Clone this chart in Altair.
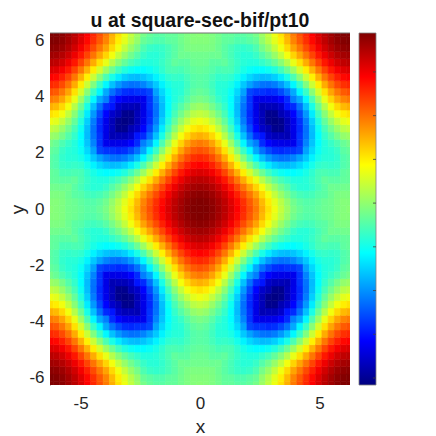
import math
import altair as alt
import pandas as pd

# Field values estimated by eye from the reference, on a grid of pi/12 steps, x and y in 0..2pi.
# The picture is symmetric, so one triangle of one quadrant is listed and mirrored below.
r00 = [.393,.389,.380,.364,.343,.318,.289,.258,.225,.193,.150,.112,.074,.040,.010,-.018,-.033,-.043,-.043,-.035,-.028,-.025,-.015,-.010,-.005]
r01 = [.386,.376,.360,.339,.312,.282,.251,.217,.184,.142,.102,.065,.032,.002,-.025,-.040,-.048,-.046,-.038,-.030,-.025,-.015,-.009,-.009]
r02 = [.366,.348,.325,.296,.264,.229,.195,.160,.117,.077,.040,.007,-.021,-.045,-.058,-.064,-.060,-.047,-.042,-.029,-.017,-.015,-.015]
r03 = [.328,.302,.270,.234,.197,.158,.121,.079,.040,.006,-.024,-.047,-.071,-.082,-.083,-.074,-.058,-.043,-.027,-.029,-.025,-.024]
r04 = [.271,.235,.195,.153,.110,.070,.030,-.006,-.036,-.058,-.074,-.087,-.088,-.083,-.071,-.054,-.037,-.043,-.043,-.037,-.035]
r05 = [.194,.149,.101,.054,.010,-.029,-.063,-.088,-.105,-.113,-.115,-.108,-.095,-.078,-.057,-.054,-.058,-.057,-.040,-.035]
r06 = [.098,.045,-.006,-.054,-.095,-.128,-.151,-.164,-.167,-.160,-.144,-.123,-.098,-.077,-.071,-.075,-.070,-.050,-.043]
r07 = [-.013,-.068,-.119,-.162,-.195,-.217,-.227,-.224,-.211,-.187,-.157,-.123,-.095,-.083,-.083,-.075,-.050,-.043]
r08 = [-.120,-.182,-.226,-.258,-.278,-.284,-.276,-.275,-.260,-.187,-.144,-.107,-.088,-.082,-.069,-.042,-.035]
r09 = [-.215,-.282,-.314,-.331,-.334,-.335,-.330,-.275,-.211,-.160,-.115,-.087,-.071,-.053,-.032,-.020]
r10 = [-.300,-.357,-.372,-.371,-.375,-.335,-.276,-.224,-.167,-.114,-.074,-.048,-.021,.002,.009]
r11 = [-.375,-.405,-.405,-.370,-.333,-.284,-.226,-.164,-.105,-.058,-.024,.006,.031,.039]
r12 = [-.414,-.405,-.372,-.331,-.278,-.217,-.151,-.088,-.035,.005,.040,.065,.074]
r13 = [-.375,-.356,-.313,-.258,-.195,-.128,-.063,-.007,.039,.076,.101,.110]
r14 = [-.300,-.282,-.226,-.162,-.095,-.029,.029,.078,.117,.142,.150]
r15 = [-.215,-.181,-.119,-.054,.010,.070,.121,.159,.184,.192]
r16 = [-.120,-.069,-.006,.054,.110,.158,.194,.217,.225]
r17 = [-.013,.045,.101,.153,.197,.230,.251,.258]
r18 = [.098,.148,.195,.235,.264,.283,.289]
r19 = [.194,.235,.270,.296,.313,.318]
r20 = [.271,.301,.324,.338,.343]
r21 = [.328,.348,.360,.364]
r22 = [.366,.376,.380]
r23 = [.386,.390]
r24 = [.393]
triangle = [r00,r01,r02,r03,r04,r05,r06,r07,r08,r09,r10,r11,r12,r13,r14,r15,r16,r17,r18,r19,r20,r21,r22,r23,r24]

color_domain = [-0.416, -0.3154, -0.1141, 0.0872, 0.2884, 0.389]
color_range = ["#000080", "#0000ff", "#00ffff", "#ffff00", "#ff0000", "#800000"]
x_ticks = [-5, 0, 5]
y_ticks = [-6, -4, -2, 0, 2, 4, 6]
bar_ticks = [-0.4, -0.3, -0.2, -0.1, 0, 0.1, 0.2, 0.3]

STEP = math.pi / 12
LIM = 2 * math.pi
FONT = "Liberation Sans"
INK = "#262626"


def value_at(i, j):
    a, b = min(abs(i), abs(j)), max(abs(i), abs(j))
    return triangle[a][b - a]


rows = []
for i in range(-24, 25):
    for j in range(-24, 25):
        rows.append({
            "x0": (i - .5) * STEP, "x1": (i + .5) * STEP,
            "y0": (j - .5) * STEP, "y1": (j + .5) * STEP,
            "u": value_at(i, j),
        })
field = pd.DataFrame(rows)

color_scale = alt.Scale(domain=color_domain, range=color_range, interpolate="rgb", clamp=True)

heat = alt.Chart(field).mark_rect(clip=True, strokeWidth=0.6).encode(
    x=alt.X("x0:Q", scale=alt.Scale(domain=[-LIM, LIM], nice=False, zero=False),
            axis=alt.Axis(title="x", values=x_ticks, labelExpr="'' + datum.value", grid=False, domain=False, ticks=False,
                          labelFontSize=17, labelColor=INK, labelFont=FONT, labelPadding=10,
                          titleFontSize=19, titleColor=INK, titleFont=FONT, titleFontWeight="normal", titlePadding=6)),
    x2="x1:Q",
    y=alt.Y("y0:Q", scale=alt.Scale(domain=[-LIM, LIM], nice=False, zero=False),
            axis=alt.Axis(title="y", values=y_ticks, labelExpr="'' + datum.value", grid=False, domain=True, domainColor="#808080",
                          ticks=False, labelFontSize=17, labelColor=INK, labelFont=FONT, labelPadding=6,
                          titleFontSize=19, titleColor=INK, titleFont=FONT, titleFontWeight="normal", titlePadding=1)),
    y2="y1:Q",
    color=alt.Color("u:Q", scale=color_scale, legend=None),
    stroke=alt.Stroke("u:Q", scale=color_scale, legend=None),
)
top_edge = alt.Chart(pd.DataFrame({"v": [LIM]})).mark_rule(color="#707070", strokeWidth=1).encode(
    y=alt.Y("v:Q"), x=alt.value(0), x2=alt.value(300),
)
main = alt.layer(heat, top_edge).properties(
    width=300, height=352,
    title=alt.TitleParams("u at square-sec-bif/pt10", font=FONT, fontSize=19.5, fontWeight="bold",
                          color="#111111", offset=0, anchor="middle"),
)

bar_range = pd.DataFrame({"lo": [color_domain[0]], "hi": [color_domain[-1]]})
stops = [alt.GradientStop(offset=(v - color_domain[0]) / (color_domain[-1] - color_domain[0]), color=c)
         for v, c in zip(color_domain, color_range)]
bar = alt.Chart(bar_range).mark_rect(
    fill=alt.LinearGradient(gradient="linear", stops=stops, x1=0, x2=0, y1=1, y2=0),
    stroke="#808080", strokeWidth=0.8,
).encode(
    x=alt.value(0), x2=alt.value(17),
    y=alt.Y("lo:Q", scale=alt.Scale(domain=[color_domain[0], color_domain[-1]], nice=False, zero=False),
            axis=alt.Axis(orient="right", title=None, values=bar_ticks, grid=False, domain=False, ticks=False,
                          labelFontSize=15, labelColor=INK, labelFont=FONT, labelPadding=5,
                          labelExpr="'' + datum.value")),
    y2="hi:Q",
)
bar_tick_rules = alt.Chart(pd.DataFrame({"v": bar_ticks})).mark_rule(color="#404040", strokeWidth=0.8).encode(
    x=alt.value(14), x2=alt.value(17),
    y=alt.Y("v:Q", scale=alt.Scale(domain=[color_domain[0], color_domain[-1]], nice=False, zero=False), axis=None),
)
colorbar = alt.layer(bar, bar_tick_rules).properties(width=17, height=352)

chart = alt.hconcat(main, colorbar, spacing=7).properties(
    padding={"top": 3, "left": 0, "right": 0, "bottom": 0}
).configure_view(stroke=None)
chart.save("out.html", embed_options={"renderer": "svg", "actions": False})
